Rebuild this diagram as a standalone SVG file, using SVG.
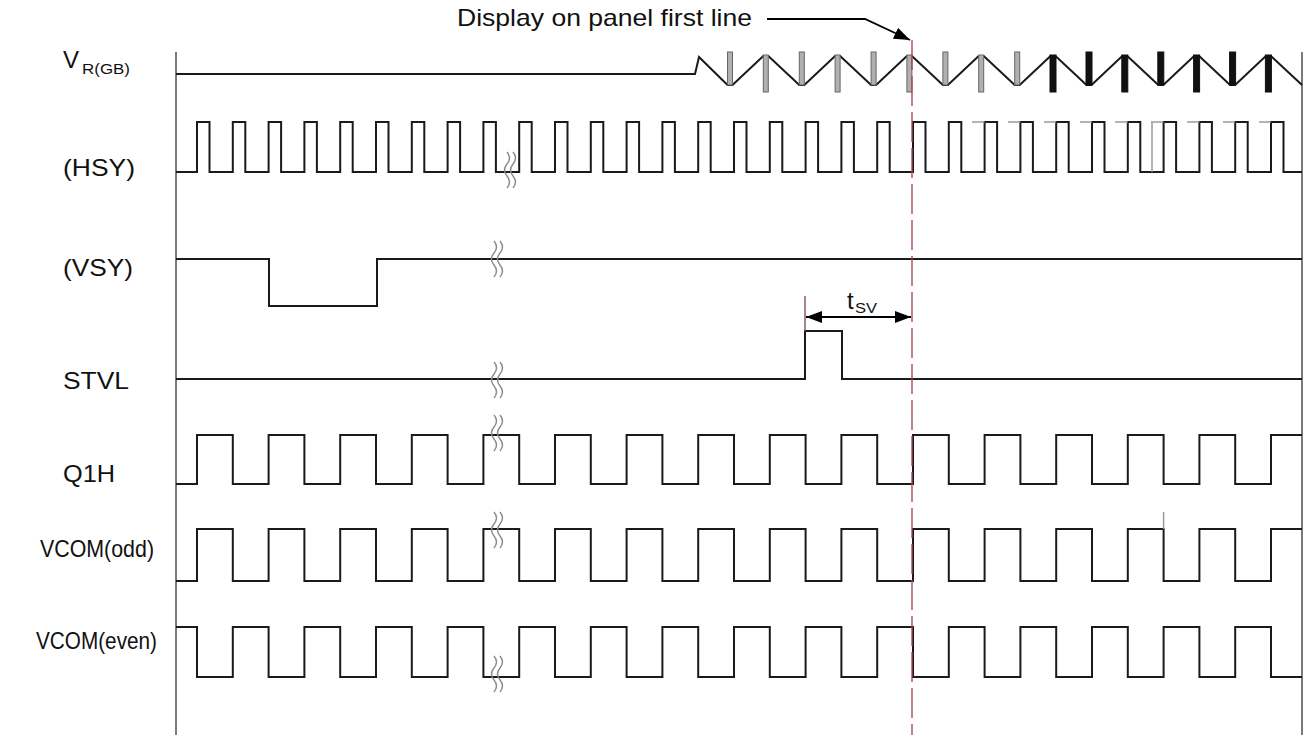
<svg xmlns="http://www.w3.org/2000/svg" width="1306" height="737" viewBox="0 0 1306 737">
<style>
.lbl{font-family:"Liberation Sans",Arial,sans-serif;font-size:24px;fill:#111}
.sub{font-family:"Liberation Sans",Arial,sans-serif;font-size:15px;fill:#111}
.wave{fill:none;stroke:#1a1a1a;stroke-width:2;stroke-linejoin:miter}
.axis{stroke:#7a7a7a;stroke-width:2}
.brk{fill:none;stroke:#8a8a8a;stroke-width:1.4}
.gbar{fill:#b0b0b0;stroke:#666;stroke-width:1}
.kbar{fill:#111;stroke:#111;stroke-width:1}
.ghost{stroke:#9a9a9a;stroke-width:1.5}
.conn{fill:none;stroke:#000;stroke-width:1.8}
</style>
<defs>
<marker id="ah" viewBox="0 0 16 12" refX="16" refY="6" markerWidth="16" markerHeight="12" markerUnits="userSpaceOnUse" orient="auto-start-reverse"><path d="M0,0 L16,6 L0,12 z" fill="#000"/></marker>
<g id="brk"><path class="brk" d="M5,0 q5,6 0,12 q-5,6 0,12 q5,6 0,12"/><path class="brk" d="M11,0 q5,6 0,12 q-5,6 0,12 q5,6 0,12"/></g>
</defs>
<rect width="1306" height="737" fill="#fff"/>

<g id="axes">
<line class="axis" x1="176" y1="52" x2="176" y2="735"/>
<line class="axis" x1="1302" y1="52" x2="1302" y2="735"/>
</g>

<g id="sig-vrgb">
<text class="lbl" x="63" y="68">V</text><text class="sub" x="82" y="74" textLength="48" lengthAdjust="spacingAndGlyphs">R(GB)</text>
<polyline class="wave" points="176,74 695,74 699,57 727.5,85 732.5,85 763.3,56 768.3,56 799.3,85 804.3,85 835.1,56 840.1,56 871.1,85 876.1,85 906.9,56 911.9,56 942.9,85 947.9,85 978.7,56 983.7,56 1014.7,85 1019.7,85 1050.5,56 1055.5,56 1086.5,85 1091.5,85 1122.3,56 1127.3,56 1158.3,85 1163.3,85 1194.1,56 1199.1,56 1230.1,85 1235.1,85 1265.9,56 1270.9,56 1302,85"/>
<rect class="gbar" x="727.5" y="52" width="5" height="33"/>
<rect class="gbar" x="763.3" y="55" width="5" height="37"/>
<rect class="gbar" x="799.3" y="52" width="5" height="33"/>
<rect class="gbar" x="835.1" y="55" width="5" height="37"/>
<rect class="gbar" x="871.1" y="52" width="5" height="33"/>
<rect class="gbar" x="906.9" y="55" width="5" height="37"/>
<rect class="gbar" x="942.9" y="52" width="5" height="33"/>
<rect class="gbar" x="978.7" y="55" width="5" height="37"/>
<rect class="gbar" x="1014.7" y="52" width="5" height="33"/>
<rect class="kbar" x="1050" y="55" width="6" height="37"/>
<rect class="kbar" x="1086" y="52" width="6" height="33"/>
<rect class="kbar" x="1121.8" y="55" width="6" height="37"/>
<rect class="kbar" x="1157.8" y="52" width="6" height="33"/>
<rect class="kbar" x="1193.6" y="55" width="6" height="37"/>
<rect class="kbar" x="1229.6" y="52" width="6" height="33"/>
<rect class="kbar" x="1265.4" y="55" width="6" height="37"/>
</g>

<g id="sig-hsy">
<text class="lbl" x="63" y="176" textLength="72" lengthAdjust="spacingAndGlyphs">(HSY)</text>
<path class="wave" d="M176,172 H197 v-50h12.5v50h23.3 v-50h12.5v50h23.3 v-50h12.5v50h23.3 v-50h12.5v50h23.3 v-50h12.5v50h23.3 v-50h12.5v50h23.3 v-50h12.5v50h23.3 v-50h12.5v50h23.3 v-50h12.5v50h23.3 v-50h12.5v50h23.3 v-50h12.5v50h23.3 v-50h12.5v50h23.3 v-50h12.5v50h23.3 v-50h12.5v50h23.3 v-50h12.5v50h23.3 v-50h12.5v50h23.3 v-50h12.5v50h23.3 v-50h12.5v50h23.3 v-50h12.5v50h23.3 v-50h12.5v50h23.3 v-50h12.5v50h23.3 v-50h12.5v50h23.3 v-50h12.5v50h23.3 v-50h12.5v50h23.3 v-50h12.5v50h23.3 v-50h12.5v50h23.3 v-50h12.5v50h23.3 v-50h12.5v50h23.3 v-50h12.5v50h23.3 v-50h12.5v50h23.3 v-50h12.5v50H1302"/>
<g class="ghost">
<line x1="972" y1="122" x2="984.6" y2="122"/>
<line x1="1008" y1="122" x2="1020.4" y2="122"/>
<line x1="1044" y1="122" x2="1056.2" y2="122"/>
<line x1="1080" y1="122" x2="1092" y2="122"/>
<line x1="1115" y1="122" x2="1127.8" y2="122"/>
<line x1="1151" y1="122" x2="1163.6" y2="122"/>
<line x1="1152" y1="122" x2="1152" y2="172"/>
<line x1="1187" y1="122" x2="1199.4" y2="122"/>
<line x1="1223" y1="122" x2="1235.2" y2="122"/>
<line x1="1259" y1="122" x2="1271" y2="122"/>
</g>
<use href="#brk" x="502" y="152"/>
</g>

<g id="sig-vsy">
<text class="lbl" x="63" y="276" textLength="70" lengthAdjust="spacingAndGlyphs">(VSY)</text>
<path class="wave" d="M176,259 H269 V306 H377 V259 H1302"/>
<use href="#brk" x="489" y="241"/>
</g>

<g id="sig-stvl">
<text class="lbl" x="63" y="389" textLength="66" lengthAdjust="spacingAndGlyphs">STVL</text>
<path class="wave" d="M176,379 H805 V331 H842 V379 H1302"/>
<use href="#brk" x="489" y="362"/>
</g>

<g id="sig-q1h">
<text class="lbl" x="63" y="482" textLength="52" lengthAdjust="spacingAndGlyphs">Q1H</text>
<path class="wave" d="M176,484 H197 v-49h35.8v49h35.8 v-49h35.8v49h35.8 v-49h35.8v49h35.8 v-49h35.8v49h35.8 v-49h35.8v49h35.8 v-49h35.8v49h35.8 v-49h35.8v49h35.8 v-49h35.8v49h35.8 v-49h35.8v49h35.8 v-49h35.8v49h35.8 v-49h35.8v49h35.8 v-49h35.8v49h35.8 v-49h35.8v49h35.8 v-49h35.8v49h35.8 v-49h35.8v49h35.8 v-49H1302"/>
<use href="#brk" x="489" y="415"/>
</g>

<g id="sig-vcom-odd">
<text class="lbl" x="40" y="557" textLength="114" lengthAdjust="spacingAndGlyphs">VCOM(odd)</text>
<path class="wave" d="M176,581 H197 v-52h35.8v52h35.8 v-52h35.8v52h35.8 v-52h35.8v52h35.8 v-52h35.8v52h35.8 v-52h35.8v52h35.8 v-52h35.8v52h35.8 v-52h35.8v52h35.8 v-52h35.8v52h35.8 v-52h35.8v52h35.8 v-52h35.8v52h35.8 v-52h35.8v52h35.8 v-52h35.8v52h35.8 v-52h35.8v52h35.8 v-52h35.8v52h35.8 v-52h35.8v52h35.8 v-52H1302"/>
<line class="ghost" x1="1163.6" y1="512" x2="1163.6" y2="529"/>
<use href="#brk" x="489" y="512"/>
</g>

<g id="sig-vcom-even">
<text class="lbl" x="36" y="649" textLength="121" lengthAdjust="spacingAndGlyphs">VCOM(even)</text>
<path class="wave" d="M176,627 H197 v50h35.8v-50h35.8 v50h35.8v-50h35.8 v50h35.8v-50h35.8 v50h35.8v-50h35.8 v50h35.8v-50h35.8 v50h35.8v-50h35.8 v50h35.8v-50h35.8 v50h35.8v-50h35.8 v50h35.8v-50h35.8 v50h35.8v-50h35.8 v50h35.8v-50h35.8 v50h35.8v-50h35.8 v50h35.8v-50h35.8 v50h35.8v-50h35.8 v50h35.8v-50h35.8 v50H1302"/>
<use href="#brk" x="489" y="656"/>
</g>

<g id="connectors">
<line x1="912" y1="40" x2="912" y2="735" stroke="#a84848" stroke-width="1.6" stroke-dasharray="30 6" opacity="0.85"/>
<line x1="805" y1="296" x2="805" y2="331" stroke="#8a5a5a" stroke-width="1.5"/>
<line class="conn" x1="806" y1="317" x2="911" y2="317" marker-start="url(#ah)" marker-end="url(#ah)"/>
<polyline class="conn" points="767,19 865,19 910,40" marker-end="url(#ah)"/>
</g>

<g id="annotations">
<text class="lbl" x="457" y="26" textLength="295" lengthAdjust="spacingAndGlyphs">Display on panel first line</text>
<text class="lbl" x="847" y="309">t</text><text class="sub" x="855" y="313" textLength="22" lengthAdjust="spacingAndGlyphs">SV</text>
</g>
</svg>
